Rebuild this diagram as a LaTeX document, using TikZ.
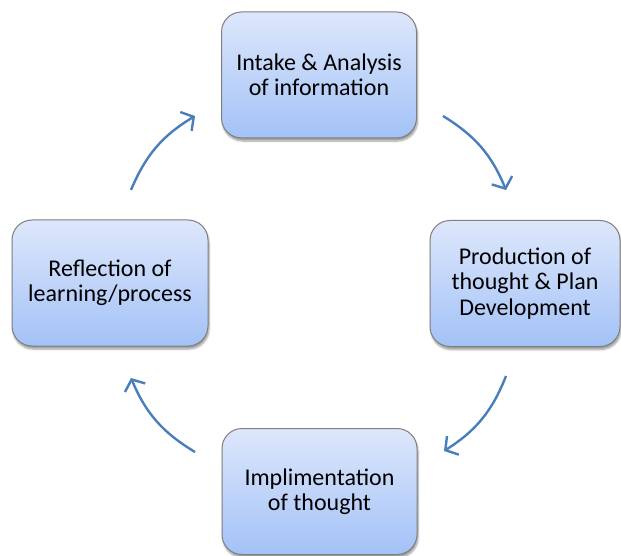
\documentclass[tikz,border=0pt]{standalone}
\usepackage{fontspec}
\setmainfont{Carlito}
\usetikzlibrary{arrows.meta,shadows,shadows.blur}
\definecolor{boxtop}{HTML}{DDE7FB}
\definecolor{boxbot}{HTML}{A3C2F7}
\definecolor{boxline}{HTML}{7F7F7F}
\definecolor{arrowc}{HTML}{4A7EBB}
\tikzset{
  cyclebox/.style={rectangle, rounded corners=20pt, draw=boxline, line width=1pt,
    top color=boxtop, bottom color=boxbot, align=center,
    minimum width=195pt, minimum height=126pt, inner sep=0pt,
    font=\fontsize{24}{25.5}\selectfont, text=black,
    blur shadow={shadow xshift=1pt, shadow yshift=-3pt, shadow blur steps=6, shadow opacity=40}},
  cyclearrow/.style={draw=arrowc, line width=2.4pt,
    -{Straight Barb[length=9pt,width=22pt,line width=2.4pt]}}
}
\begin{document}
\begin{tikzpicture}[x=1pt,y=-1pt]
\useasboundingbox (0,0) rectangle (621,556);
\node[cyclebox] (intake) at (319,75) {Intake \& Analysis\\of information};
\node[cyclebox, minimum width=190pt] (prod) at (525,283.5) {Production of\\thought \& Plan\\Development};
\node[cyclebox] (impl) at (319.5,491.5) {Implimentation\\of thought};
\node[cyclebox, minimum width=196pt] (refl) at (110,283) {Reflection of\\learning/process};
\coordinate (a1s) at (443,116);
\coordinate (a1e) at (506,190);
\coordinate (a2s) at (506,376);
\coordinate (a2e) at (444,451);
\coordinate (a3s) at (195,452);
\coordinate (a3e) at (131,378);
\coordinate (a4s) at (131,190);
\coordinate (a4e) at (195,116);
\draw[cyclearrow] (a1s) to[bend left=18] (a1e);
\draw[cyclearrow] (a2s) to[bend left=18] (a2e);
\draw[cyclearrow] (a3s) to[bend left=18] (a3e);
\draw[cyclearrow] (a4s) to[bend left=18] (a4e);
\end{tikzpicture}
\end{document}
